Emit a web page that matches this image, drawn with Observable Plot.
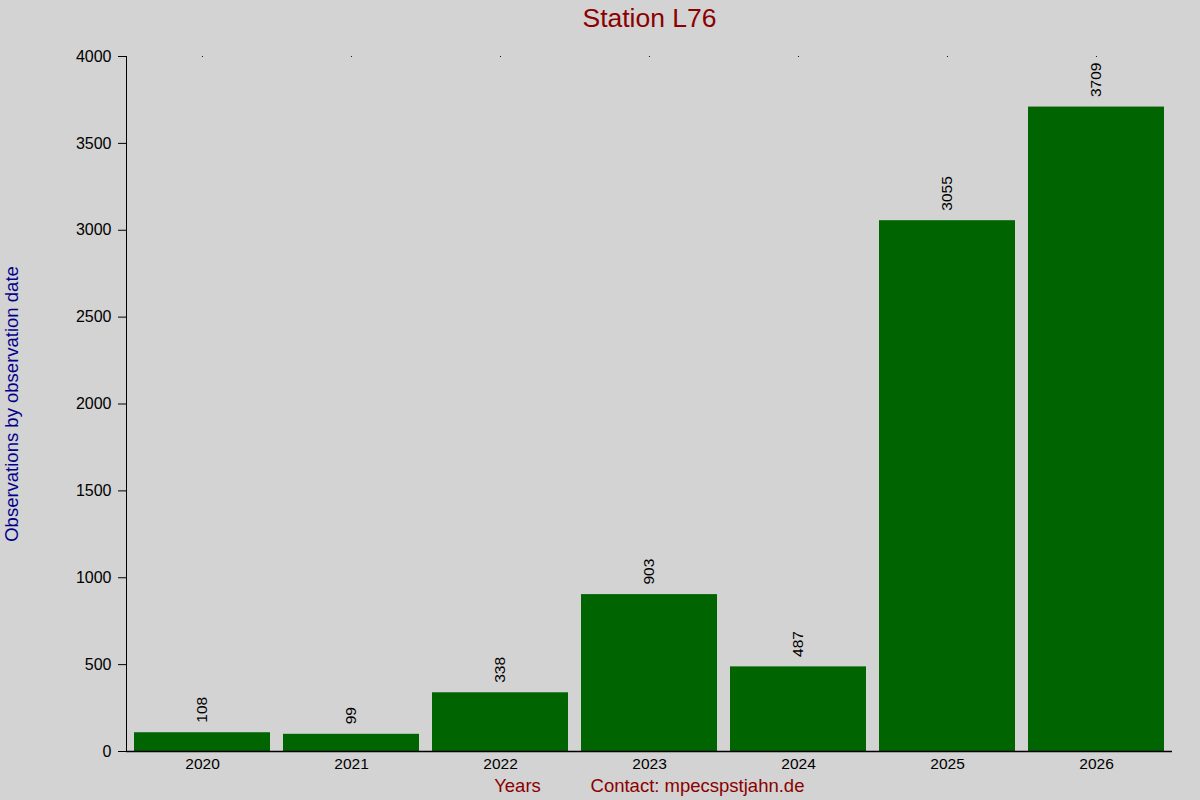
<!DOCTYPE html>
<html>
<head>
<meta charset="utf-8">
<script src="https://cdn.jsdelivr.net/npm/d3@7"></script>
<script src="https://cdn.jsdelivr.net/npm/@observablehq/plot@0.6"></script>
<style>
  html, body { margin: 0; padding: 0; background: #d3d3d3; }
  #chart svg { display: block; }
</style>
</head>
<body>
<div id="chart"></div>
<script>
const years = ["2020", "2021", "2022", "2023", "2024", "2025", "2026"];
const counts = [108, 99, 338, 903, 487, 3055, 3709];
const yTicks = [0, 500, 1000, 1500, 2000, 2500, 3000, 3500, 4000];
const titleText = "Station L76";
const yLabel = "Observations by observation date";
const xLabel = "Years";
const contactText = "Contact: mpecspstjahn.de";

const data = years.map((y, i) => ({year: y, count: counts[i]}));

const chart = Plot.plot({
  width: 1200,
  height: 800,
  marginLeft: 126,
  marginRight: 28,
  marginTop: 56,
  marginBottom: 49,
  style: {background: "#d3d3d3", fontFamily: "'Liberation Sans', Arial, sans-serif", fontSize: "15px", color: "#000"},
  x: {domain: years, paddingInner: 0.09, paddingOuter: 0.045, axis: null},
  y: {domain: [0, 4000], axis: null},
  marks: [
    Plot.barY(data, {x: "year", y: "count", fill: "#006400"}),
    Plot.text(data, {x: "year", y: "count", text: d => String(d.count), rotate: -90, textAnchor: "start", dy: -10, fontSize: 15.5, fill: "#000"}),
    // y axis
    Plot.axisY({ticks: yTicks, tickSize: 8, tickPadding: 7, fontSize: 16, label: null, tickFormat: d => String(d), stroke: "#000", color: "#000"}),
    Plot.frame({anchor: "left", stroke: "#000"}),
    Plot.ruleY([0], {stroke: "#000", strokeWidth: 1.3}),
    // x tick labels
    Plot.axisX({tickSize: 0, tickPadding: 6, fontSize: 15.5, label: null}),
    // top dots
    Plot.dot(years, {x: d => d, y: 4000, r: 0.6, fill: "#000", stroke: null}),
    // title
    Plot.text([titleText], {frameAnchor: "top", lineAnchor: "middle", dy: -38, fontSize: 26.5, fill: "#8b0000", text: d => d}),
    // y label
    Plot.text([yLabel], {frameAnchor: "left", lineAnchor: "middle", textAnchor: "middle", dx: -114, dy: 0, rotate: -90, fontSize: 18.5, fill: "#00008b", text: d => d}),
    // bottom labels
    Plot.text([xLabel], {frameAnchor: "bottom", lineAnchor: "middle", dx: 517 - 649, dy: 35, fontSize: 18.5, fill: "#8b0000", text: d => d}),
    Plot.text([contactText], {frameAnchor: "bottom", lineAnchor: "middle", dx: 697 - 649, dy: 35, fontSize: 18.5, fill: "#8b0000", text: d => d})
  ]
});
document.getElementById("chart").appendChild(chart);
</script>
</body>
</html>
